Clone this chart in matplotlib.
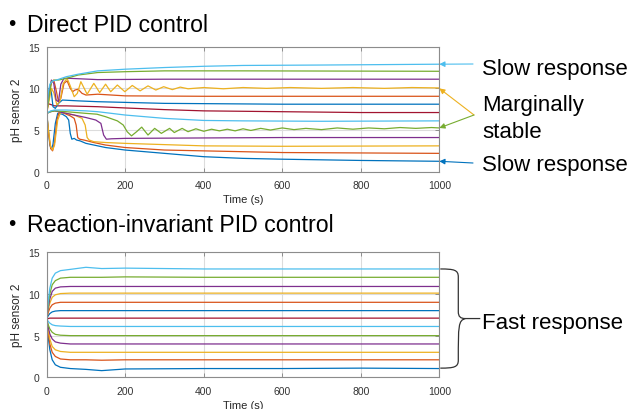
import numpy as np
import matplotlib
matplotlib.use('Agg')
import matplotlib.pyplot as plt
from matplotlib.path import Path
from matplotlib.patches import PathPatch
from matplotlib.transforms import IdentityTransform

plt.rcParams['font.family'] = ['Liberation Sans', 'DejaVu Sans']

# MATLAB default line colours, cycled over the 13 set points
colors = ['#0072BD', '#D95319', '#EDB120', '#7E2F8E', '#77AC30', '#4DBEEE', '#A2142F']

# ---- Direct PID control: (time s, pH) key points ----
d01 = [(0, 7.0), (4, 5.2), (8, 3.2), (12, 2.7), (16, 3.3), (22, 5.8), (28, 7.0), (40, 6.9), (50, 6.6),
       (56, 6.2), (60, 4.6), (64, 3.9), (70, 4.0), (76, 3.8), (85, 3.7), (100, 3.4), (150, 2.9),
       (200, 2.6), (300, 2.2), (400, 1.8), (500, 1.6), (600, 1.5), (800, 1.35), (1000, 1.25)]
d02 = [(0, 7.0), (5, 4.5), (10, 2.8), (15, 2.5), (20, 3.5), (26, 6.2), (32, 7.2), (45, 7.0), (60, 6.7),
       (70, 6.4), (75, 5.6), (79, 4.1), (84, 3.9), (95, 3.8), (120, 3.5), (150, 3.2), (200, 2.9),
       (300, 2.6), (400, 2.5), (600, 2.3), (800, 2.25), (1000, 2.2)]
d03 = [(0, 7.0), (5, 4.8), (10, 3.0), (15, 2.6), (20, 3.2), (28, 6.2), (36, 7.2), (50, 7.0), (70, 6.8),
       (90, 6.4), (98, 5.6), (103, 4.1), (108, 3.8), (120, 3.6), (150, 3.5), (200, 3.4), (300, 3.25),
       (400, 3.1), (600, 3.05), (1000, 3.1)]
d04 = [(0, 7.0), (10, 7.2), (20, 7.3), (40, 7.1), (70, 6.8), (100, 6.5), (125, 6.2), (138, 5.8),
       (145, 4.4), (152, 3.9), (165, 3.95), (200, 4.0), (400, 4.05), (600, 4.1), (1000, 4.1)]
d05 = [(0, 7.0), (10, 7.2), (20, 7.3), (50, 7.2), (100, 7.0), (128, 6.9), (150, 6.6), (180, 6.1),
       (195, 5.6), (205, 4.8), (216, 4.3), (229, 4.8), (242, 5.35), (258, 4.4), (275, 5.2), (292, 4.6),
       (313, 5.2), (325, 4.7), (345, 5.2), (360, 4.8), (380, 5.15), (400, 4.85), (420, 5.1), (440, 4.9),
       (460, 5.1), (480, 4.9), (500, 5.15), (520, 4.95), (545, 5.2), (570, 5.0), (600, 5.25), (630, 5.05),
       (660, 5.2), (700, 5.05), (740, 5.25), (780, 5.1), (820, 5.25), (860, 5.15), (900, 5.3), (940, 5.2),
       (980, 5.3), (1000, 5.25)]
d06 = [(0, 7.0), (10, 7.3), (20, 7.4), (50, 7.4), (100, 7.3), (130, 7.2), (200, 6.8), (300, 6.4),
       (400, 6.15), (500, 6.1), (700, 6.05), (1000, 6.1)]
d07 = [(0, 8.2), (8, 8.1), (20, 7.9), (50, 7.9), (130, 7.8), (200, 7.65), (300, 7.45), (400, 7.3),
       (600, 7.2), (800, 7.1), (1000, 7.1)]
d08 = [(0, 7.0), (4, 9.0), (8, 10.3), (12, 9.5), (16, 7.8), (22, 7.6), (30, 8.2), (40, 8.6), (80, 8.5),
       (130, 8.4), (300, 8.2), (600, 8.1), (1000, 8.1)]
d09 = [(0, 7.0), (6, 9.0), (12, 10.8), (18, 11.0), (24, 9.8), (30, 8.4), (36, 8.8), (44, 10.6),
       (52, 10.9), (60, 10.0), (66, 9.6), (72, 9.8), (80, 9.9), (90, 9.4), (100, 9.2), (130, 9.3),
       (200, 9.1), (400, 9.05), (1000, 9.05)]
d10 = [(0, 7.0), (6, 8.5), (12, 10.0), (18, 9.5), (26, 8.0), (34, 8.5), (42, 10.6), (52, 11.2),
       (60, 10.3), (70, 9.0), (78, 9.4), (87, 10.8), (103, 9.3), (120, 10.6), (135, 9.5), (150, 10.5),
       (163, 9.6), (180, 10.4), (199, 9.6), (218, 10.35), (238, 9.7), (258, 10.3), (278, 9.8),
       (298, 10.2), (320, 9.85), (340, 10.15), (360, 9.95), (400, 10.1), (450, 9.95), (500, 10.1),
       (560, 10.0), (620, 10.1), (700, 10.0), (780, 10.1), (860, 10.0), (930, 10.1), (1000, 10.05)]
d11 = [(0, 7.0), (6, 9.5), (12, 11.0), (18, 10.6), (24, 8.6), (30, 8.4), (36, 10.5), (44, 11.2),
       (60, 11.2), (130, 11.05), (300, 11.1), (600, 11.1), (1000, 11.1)]
d12 = [(0, 7.0), (6, 9.0), (12, 10.8), (20, 11.0), (30, 11.0), (50, 11.2), (80, 11.6), (130, 11.9),
       (200, 12.0), (300, 12.1), (500, 12.1), (1000, 12.05)]
d13 = [(0, 7.0), (4, 9.5), (8, 10.5), (15, 10.9), (25, 11.0), (50, 11.4), (80, 11.7), (130, 12.1),
       (200, 12.3), (300, 12.5), (400, 12.65), (500, 12.75), (700, 12.8), (1000, 12.9)]
direct = [d01, d02, d03, d04, d05, d06, d07, d08, d09, d10, d11, d12, d13]

# ---- Reaction-invariant PID control: shared time base, one pH list per set point ----
t_fast = [0, 4, 8, 14, 22, 35, 60, 100, 140, 200, 400, 600, 800, 1000]
f01 = [7.0, 4.8, 3.3, 2.1, 1.5, 1.2, 1.05, 0.95, 0.8, 1.0, 1.05, 1.05, 1.1, 1.05]
f02 = [7.0, 5.3, 4.0, 3.0, 2.5, 2.2, 2.1, 2.1, 2.05, 2.1, 2.1, 2.1, 2.1, 2.1]
f03 = [7.0, 5.7, 4.6, 3.7, 3.3, 3.1, 3.0, 3.0, 3.0, 3.0, 3.0, 3.0, 3.0, 3.0]
f04 = [7.0, 6.0, 5.2, 4.6, 4.25, 4.1, 4.0, 4.0, 4.0, 4.0, 4.0, 4.0, 4.0, 4.0]
f05 = [7.0, 6.3, 5.8, 5.4, 5.15, 5.05, 5.0, 5.0, 5.0, 5.0, 5.0, 5.0, 5.0, 5.0]
f06 = [7.0, 6.7, 6.5, 6.3, 6.2, 6.15, 6.1, 6.1, 6.1, 6.1, 6.1, 6.1, 6.1, 6.1]
f07 = [7.0, 7.05, 7.1, 7.1, 7.1, 7.1, 7.1, 7.1, 7.1, 7.1, 7.1, 7.1, 7.1, 7.1]
f08 = [7.0, 7.4, 7.65, 7.85, 7.95, 8.0, 8.0, 8.0, 8.0, 8.0, 8.0, 8.0, 8.0, 8.0]
f09 = [7.0, 7.8, 8.3, 8.7, 8.9, 9.0, 9.0, 9.0, 9.0, 9.0, 9.0, 9.0, 9.0, 9.0]
f10 = [7.0, 8.1, 8.9, 9.6, 9.9, 10.05, 10.1, 10.1, 10.1, 10.1, 10.1, 10.1, 10.1, 10.1]
f11 = [7.0, 8.4, 9.4, 10.3, 10.7, 10.85, 10.9, 10.9, 10.9, 10.9, 10.9, 10.9, 10.9, 10.9]
f12 = [7.0, 8.8, 10.0, 11.1, 11.6, 11.9, 12.0, 12.0, 12.0, 12.05, 12.0, 12.0, 12.0, 12.0]
f13 = [7.0, 9.2, 10.7, 11.9, 12.5, 12.8, 12.95, 13.2, 13.05, 13.1, 13.0, 13.0, 13.0, 13.0]
fast = [f01, f02, f03, f04, f05, f06, f07, f08, f09, f10, f11, f12, f13]

xticks = [0, 200, 400, 600, 800, 1000]
yticks = [0, 5, 10, 15]

W, H = 631, 410
fig = plt.figure(figsize=(W / 100, H / 100), dpi=100)
ax1 = fig.add_axes([46.7 / W, 1 - 172.7 / H, 392.6 / W, 125 / H])
ax2 = fig.add_axes([46.7 / W, 1 - 378.3 / H, 392.6 / W, 125 / H])


def style(ax):
    ax.set_xlim(0, 1000)
    ax.set_ylim(0, 15)
    ax.set_xticks(xticks)
    ax.set_yticks(yticks)
    ax.grid(True, color='#dcdcdc', lw=0.8)
    ax.set_axisbelow(True)
    ax.tick_params(direction='in', length=3, width=0.6, color='#808080',
                   labelsize=7.5, labelcolor='#333333', top=True, right=True)
    ax.tick_params(axis='x', pad=6)
    ax.tick_params(axis='y', pad=5)
    for s in ax.spines.values():
        s.set_color('#8c8c8c')
        s.set_linewidth(0.8)
    ax.set_xlabel('Time (s)', fontsize=8, color='#262626', labelpad=3)
    ax.set_ylabel('pH sensor 2', fontsize=8.5, color='#262626', labelpad=4)


for i, tr in enumerate(direct):
    t, v = np.array(tr).T
    ax1.plot(t, v, color=colors[i % 7], lw=0.9)
for i, v in enumerate(fast):
    ax2.plot(t_fast, v, color=colors[i % 7], lw=0.9)
style(ax1)
style(ax2)

# section titles
fig.text(8 / W, 1 - 25 / H, '•', fontsize=15, va='center')
fig.text(27 / W, 1 - 25 / H, 'Direct PID control', fontsize=16.7, va='center')
fig.text(8 / W, 1 - 225 / H, '•', fontsize=15, va='center')
fig.text(27 / W, 1 - 225 / H, 'Reaction-invariant PID control', fontsize=16.7, va='center')

# right-hand annotations, top panel
arr = dict(arrowstyle='-|>', lw=0.8, mutation_scale=8, shrinkA=0, shrinkB=0)
ax1.annotate('', xy=(1000, 12.9), xytext=(473 / W, 1 - 65 / H), textcoords='figure fraction',
             arrowprops=dict(arr, color=colors[5]))
ax1.annotate('', xy=(1000, 10.0), xytext=(474 / W, 1 - 116 / H), textcoords='figure fraction',
             arrowprops=dict(arr, color=colors[2]))
ax1.annotate('', xy=(1000, 5.25), xytext=(474 / W, 1 - 116 / H), textcoords='figure fraction',
             arrowprops=dict(arr, color=colors[4]))
ax1.annotate('', xy=(1000, 1.25), xytext=(473 / W, 1 - 164 / H), textcoords='figure fraction',
             arrowprops=dict(arr, color=colors[0]))
fig.text(482 / W, 1 - 70 / H, 'Slow response', fontsize=16, va='center')
fig.text(482 / W, 1 - 106 / H, 'Marginally', fontsize=16, va='center')
fig.text(482 / W, 1 - 132 / H, 'stable', fontsize=16, va='center')
fig.text(482 / W, 1 - 165 / H, 'Slow response', fontsize=16, va='center')

# curly brace for the lower panel
fig.canvas.draw()
x0, ytop = ax2.transData.transform((1000, 13.0))
_, ybot = ax2.transData.transform((1000, 1.1))
x0 += 1
ym = (ytop + ybot) / 2
xb = x0 + 18
verts = [(x0, ytop), (x0 + 14, ytop), (xb, ytop - 1), (xb, ytop - 8),
         (xb, ym + 7),
         (xb, ym + 2), (xb + 2, ym), (xb + 7, ym),
         (xb, ym - 2), (xb, ym - 7),
         (xb, ybot + 8),
         (xb, ybot + 1), (x0 + 14, ybot), (x0, ybot),
         (xb + 7, ym), (xb + 22, ym)]
codes = [Path.MOVETO, Path.CURVE4, Path.CURVE4, Path.CURVE4,
         Path.LINETO,
         Path.CURVE4, Path.CURVE4, Path.CURVE4,
         Path.CURVE4, Path.CURVE4,
         Path.CURVE4,
         Path.CURVE4, Path.CURVE4, Path.CURVE4,
         Path.MOVETO, Path.LINETO]
fig.add_artist(PathPatch(Path(verts, codes), transform=IdentityTransform(),
                         fc='none', ec='#333333', lw=0.9))
fig.text(482 / W, 1 - 324 / H, 'Fast response', fontsize=16, va='center')

fig.savefig('out.png', dpi=100)
